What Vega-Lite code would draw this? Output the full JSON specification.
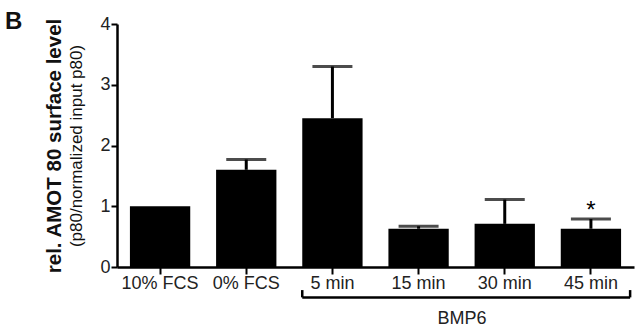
{
  "$schema": "https://vega.github.io/schema/vega-lite/v6.json",
  "width": 517,
  "height": 243,
  "autosize": {"type": "none"},
  "padding": {"left": 117, "top": 24, "right": 1, "bottom": 60},
  "config": {
    "view": {"stroke": null},
    "font": "Liberation Sans",
    "axis": {"grid": false, "domainColor": "black", "tickColor": "black", "labelColor": "#222", "titleColor": "#111"}
  },
  "title": {"text": "B", "anchor": "start", "frame": "group", "fontSize": 24, "fontWeight": "bold", "font": "Liberation Sans", "color": "#111", "dx": -112, "offset": -19},
  "datasets": {
    "bars": [
      {"condition": "10% FCS", "mean": 1.0, "upper": null, "sig": ""},
      {"condition": "0% FCS", "mean": 1.6, "upper": 1.77, "sig": ""},
      {"condition": "5 min", "mean": 2.45, "upper": 3.3, "sig": ""},
      {"condition": "15 min", "mean": 0.63, "upper": 0.67, "sig": ""},
      {"condition": "30 min", "mean": 0.71, "upper": 1.11, "sig": ""},
      {"condition": "45 min", "mean": 0.63, "upper": 0.79, "sig": "*"}
    ],
    "bracket": [
      {"label": "BMP6", "first": "5 min", "last": "45 min", "middle": "15 min"}
    ]
  },
  "resolve": {"axis": {"y": "independent"}},
  "layer": [
    {
      "data": {"name": "bars"},
      "mark": {"type": "bar", "color": "black"},
      "encoding": {
        "x": {
          "field": "condition", "type": "nominal", "sort": null,
          "scale": {"domain": ["10% FCS", "0% FCS", "5 min", "15 min", "30 min", "45 min"], "paddingInner": 0.3, "paddingOuter": 0.15},
          "axis": {"title": null, "labelAngle": 0, "labelFontSize": 18, "labelPadding": 0, "tickSize": 7, "tickWidth": 2, "domainWidth": 2.5, "labelFont": "Liberation Sans"}
        },
        "y": {
          "field": "mean", "type": "quantitative",
          "scale": {"domain": [0, 4], "nice": false},
          "axis": {"orient": "left", "values": [0, 1, 2, 3, 4], "title": "(p80/normalized input p80)", "titleFontSize": 17, "titleFontWeight": "normal", "titlePadding": 14, "labelFontSize": 18, "labelPadding": 1, "tickSize": 6, "tickWidth": 2, "domainWidth": 2.5}
        }
      }
    },
    {
      "data": {"name": "bars"},
      "transform": [{"filter": "datum.upper != null"}],
      "mark": {"type": "rule", "color": "black", "strokeWidth": 3},
      "encoding": {
        "x": {"field": "condition", "type": "nominal", "sort": null},
        "y": {"field": "mean", "type": "quantitative",
          "axis": {"orient": "left", "title": "rel. AMOT 80 surface level", "titleFontSize": 20.5, "titleFontWeight": "bold", "labels": false, "ticks": false, "domain": false, "titlePadding": 53}},
        "y2": {"field": "upper"}
      }
    },
    {
      "data": {"name": "bars"},
      "transform": [{"filter": "datum.upper != null"}],
      "mark": {"type": "tick", "color": "black", "size": 40, "thickness": 3, "orient": "horizontal"},
      "encoding": {
        "x": {"field": "condition", "type": "nominal", "sort": null},
        "y": {"field": "upper", "type": "quantitative", "axis": null}
      }
    },
    {
      "data": {"name": "bars"},
      "transform": [{"filter": "datum.sig != ''"}],
      "mark": {"type": "text", "color": "black", "fontSize": 24, "baseline": "middle", "dy": -8},
      "encoding": {
        "x": {"field": "condition", "type": "nominal", "sort": null},
        "y": {"field": "upper", "type": "quantitative", "axis": null},
        "text": {"field": "sig"}
      }
    },
    {
      "data": {"name": "bracket"},
      "mark": {"type": "rule", "color": "black", "strokeWidth": 2.5},
      "encoding": {
        "x": {"field": "first", "type": "nominal", "bandPosition": 0},
        "x2": {"field": "last", "bandPosition": 1.15},
        "y": {"datum": -0.5, "type": "quantitative", "axis": null}
      }
    },
    {
      "data": {"name": "bracket"},
      "mark": {"type": "rule", "color": "black", "strokeWidth": 2.5},
      "encoding": {
        "x": {"field": "first", "type": "nominal", "bandPosition": 0},
        "y": {"datum": -0.5, "type": "quantitative", "axis": null},
        "y2": {"datum": -0.38}
      }
    },
    {
      "data": {"name": "bracket"},
      "mark": {"type": "rule", "color": "black", "strokeWidth": 2.5},
      "encoding": {
        "x": {"field": "last", "type": "nominal", "bandPosition": 1.15},
        "y": {"datum": -0.5, "type": "quantitative", "axis": null},
        "y2": {"datum": -0.38}
      }
    },
    {
      "data": {"name": "bracket"},
      "mark": {"type": "text", "color": "#222", "fontSize": 18, "baseline": "middle"},
      "encoding": {
        "x": {"field": "middle", "type": "nominal", "bandPosition": 1.22},
        "y": {"datum": -0.86, "type": "quantitative", "axis": null},
        "text": {"field": "label"}
      }
    }
  ]
}
